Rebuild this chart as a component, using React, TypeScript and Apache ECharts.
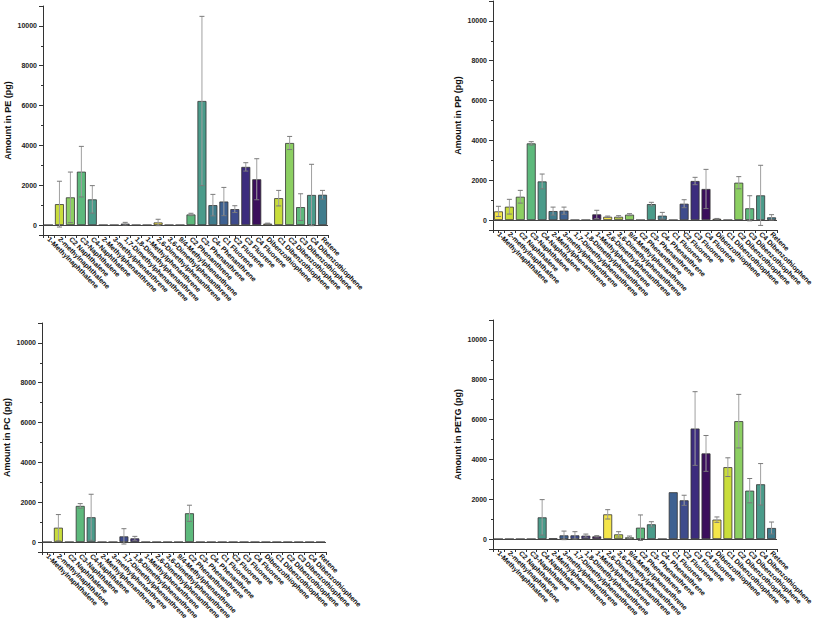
import React, { useEffect, useRef } from 'react';
import * as echarts from 'echarts';

const categories = [
  '1-Methylnaphthalene', '2-methylnaphthalene', 'C2 Naphthalene', 'C3-Naphthalene', 'C4-Naphthalene',
  '2-Methylphenanthrene', '3-methylphenanthrene', '1,7-Dimethylphenanthrene', '1,8-Dimethylphenanthrene',
  '1-Methylphenanthrene', '2,6-Dimethylphenanthrene', '3,6-Dimethylphenanthrene', '9/4-Methylphenanthrene',
  'C2 Phenanthrene', 'C3- Phenanthrene', 'C4- Phenanthrene', 'C1 Fluorene', 'C2 Fluorene', 'C3 Fluorene',
  'C4 Fluorene', 'Dibenzothiophene', 'C1 Dibenzothiophene', 'C2 Dibenzothiophene', 'C3 Dibenzothiophene',
  'C4 Dibenzothiophene', 'Retene',
];

const peValues = [0, 1050, 1390, 2680, 1290, 0, 0, 70, 0, 0, 130, 0, 0, 530, 6230, 1000, 1180, 800, 2920, 2300, 70, 1350, 4120, 900, 1510, 1520];
const peErrors = [0, 1150, 1270, 1270, 690, 0, 0, 65, 0, 0, 160, 0, 0, 60, 4250, 540, 710, 170, 210, 1030, 25, 390, 330, 670, 1540, 220];

const ppValues = [435, 670, 1170, 3850, 1940, 450, 470, 0, 0, 285, 165, 165, 270, 0, 800, 220, 0, 820, 1960, 1560, 60, 0, 1875, 590, 1240, 135];
const ppErrors = [255, 370, 320, 85, 370, 200, 180, 0, 0, 205, 35, 55, 50, 0, 90, 165, 0, 200, 185, 985, 20, 0, 305, 630, 1510, 135];

const pcValues = [0, 720, 0, 1815, 1245, 0, 0, 285, 185, 0, 0, 0, 0, 1445, 0, 0, 0, 0, 0, 0, 0, 0, 0, 0, 0, 0];
const pcErrors = [0, 660, 0, 115, 1155, 0, 0, 385, 100, 0, 0, 0, 0, 405, 0, 0, 0, 0, 0, 0, 0, 0, 0, 0, 0, 0];

const petgValues = [0, 0, 0, 0, 1090, 30, 185, 185, 170, 135, 1240, 235, 85, 570, 740, 0, 2350, 1945, 5550, 4300, 975, 3610, 5920, 2430, 2750, 555];
const petgErrors = [0, 0, 0, 0, 890, 0, 215, 185, 80, 35, 235, 135, 65, 640, 130, 0, 0, 255, 1850, 900, 135, 470, 1345, 610, 1040, 300];

const palette = ['#f4e54a', '#c9dd3b', '#8ccf62', '#5db97c', '#4a9b8a', '#3f7c8c', '#3e6191', '#3e4b8c', '#3c2c7d', '#3b0f5c'];

const FONT = "'Liberation Sans', Arial, sans-serif";

const panels = [
  { name: 'Amount in PE (pg)', values: peValues, errors: peErrors, grid: { left: 43, top: 6, width: 285, height: 229 } },
  { name: 'Amount in PP (pg)', values: ppValues, errors: ppErrors, grid: { left: 493, top: 1, width: 284, height: 229 } },
  { name: 'Amount in PC (pg)', values: pcValues, errors: pcErrors, grid: { left: 42, top: 323, width: 284, height: 229 } },
  { name: 'Amount in PETG (pg)', values: petgValues, errors: petgErrors, grid: { left: 493, top: 320, width: 284, height: 229 } },
];

export default function App() {
  const ref = useRef<HTMLDivElement>(null);
  useEffect(() => {
    if (!ref.current) return;
    const chart = echarts.init(ref.current, null, { renderer: 'svg' });
    const grid: any[] = [];
    const xAxis: any[] = [];
    const yAxis: any[] = [];
    const series: any[] = [];
    panels.forEach((p, pi) => {
      grid.push({ ...p.grid, containLabel: false, outerBoundsMode: 'none' });
      xAxis.push({
        type: 'category', gridIndex: pi, data: categories, position: 'bottom', boundaryGap: true,
        axisLine: { show: true, onZero: false, lineStyle: { color: '#333', width: 1 } },
        axisTick: { show: true, length: 3, lineStyle: { color: '#333' } },
        axisLabel: { interval: 0, rotate: -45, fontSize: 7, fontWeight: 'bold', color: '#111', margin: 3, fontFamily: FONT },
        splitLine: { show: false },
      });
      xAxis.push({
        type: 'category', gridIndex: pi, data: categories, position: 'bottom', boundaryGap: true,
        axisLine: { show: false, onZero: false },
        axisTick: { show: true, length: 3, alignWithLabel: true, lineStyle: { color: '#333' } },
        axisLabel: { show: false },
        splitLine: { show: false },
      });
      yAxis.push({
        type: 'value', gridIndex: pi, position: 'left', min: -500, max: 11000, splitNumber: 5,
        axisLine: { show: true, onZero: false, lineStyle: { color: '#333', width: 1 } },
        axisTick: { show: true, length: 4, lineStyle: { color: '#333' } },
        splitLine: { show: false },
        axisLabel: {
          fontSize: 7, fontWeight: 'bold', color: '#222', margin: 6, fontFamily: FONT,
          formatter: (v: number) => (v >= 0 && v <= 10000 && v % 2000 === 0 ? String(v) : ''),
        },
        name: p.name, nameLocation: 'middle', nameGap: 31,
        nameTextStyle: { fontSize: 9, fontWeight: 'bold', color: '#111', fontFamily: FONT },
      });
      yAxis.push({
        type: 'value', gridIndex: pi, position: 'left', min: -500, max: 11000, splitNumber: 11,
        axisLine: { show: false, onZero: false },
        axisTick: { show: true, length: 2, lineStyle: { color: '#333' } },
        splitLine: { show: false },
        axisLabel: { show: false },
      });
      series.push({
        type: 'bar', xAxisIndex: pi * 2, yAxisIndex: pi * 2, barWidth: '82%',
        data: p.values.map((v, i) => ({ value: v, itemStyle: { color: palette[i % palette.length] } })),
        itemStyle: { borderColor: '#333', borderWidth: 0.8 },
        markLine: {
          silent: true, symbol: ['none', 'none'], label: { show: false },
          lineStyle: { color: '#444', width: 1.2, type: 'solid' },
          data: [{ yAxis: 0 }],
        },
        z: 2,
      });
      series.push({
        type: 'custom', xAxisIndex: pi * 2, yAxisIndex: pi * 2, z: 5,
        encode: { x: 0, y: 1 },
        data: p.values.map((v, i) => [i, v, p.errors[i]]),
        renderItem: (params: any, api: any) => {
          const x = api.value(0);
          const v = api.value(1);
          const e = api.value(2);
          if (!e) return null;
          const top = api.coord([x, v + e]);
          const bot = api.coord([x, v - e]);
          const hw = 2.5;
          return {
            type: 'group',
            children: [
              { type: 'line', shape: { x1: top[0], y1: top[1], x2: bot[0], y2: bot[1] }, style: { stroke: '#a0a0a0', lineWidth: 1 } },
              { type: 'line', shape: { x1: top[0] - hw, y1: top[1], x2: top[0] + hw, y2: top[1] }, style: { stroke: '#7a7a7a', lineWidth: 1 } },
              { type: 'line', shape: { x1: bot[0] - hw, y1: bot[1], x2: bot[0] + hw, y2: bot[1] }, style: { stroke: '#7a7a7a', lineWidth: 1 } },
            ],
          };
        },
      });
    });
    chart.setOption({ animation: false, backgroundColor: '#ffffff', grid, xAxis, yAxis, series });
    return () => chart.dispose();
  }, []);
  return <div ref={ref} style={{ position: 'fixed', left: 0, top: 0, width: 813, height: 629 }} />;
}
